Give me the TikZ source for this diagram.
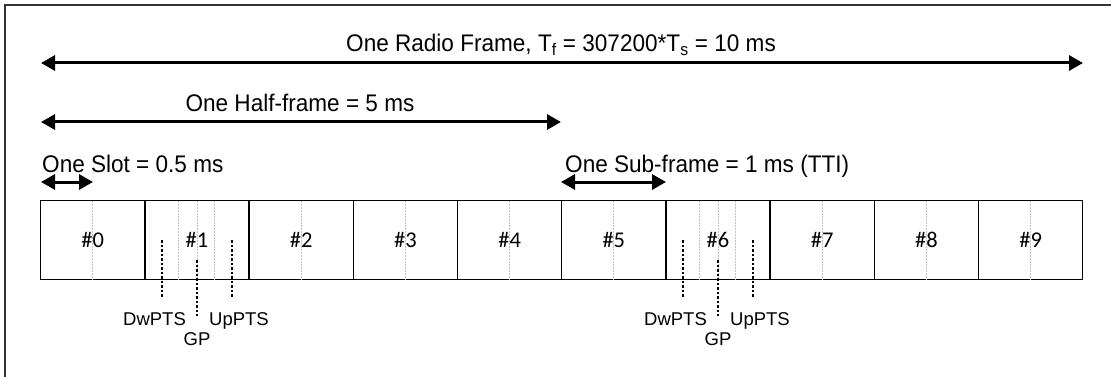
\documentclass[tikz,border=0pt]{standalone}
\usepackage{fontspec}
\setmainfont{Liberation Sans}
\newfontfamily\narrowsans[FakeStretch=0.94]{Liberation Sans}
\newfontfamily\boxfont{Carlito}
\usetikzlibrary{arrows.meta,calc}
\begin{document}
\begin{tikzpicture}[x=1pt,y=-1pt,
  dbl/.style={{Triangle[length=14pt,width=15pt]}-{Triangle[length=14pt,width=15pt]}, line width=3pt},
  sfbox/.style={draw, line width=1.4pt, minimum width=104.2pt, minimum height=79pt, inner sep=0pt, anchor=north west, font=\boxfont\fontsize{22.5}{24}\selectfont},
  bigtxt/.style={inner sep=0pt, font=\narrowsans\fontsize{24}{27}\selectfont},
  smalltxt/.style={inner sep=0pt, anchor=base, font=\fontsize{18.5}{22}\selectfont},
  graydot/.style={draw=black!25, line width=0.8pt, dash pattern=on 1.5pt off 1.5pt},
  blackdot/.style={draw=black, line width=1.5pt, dash pattern=on 2.5pt off 2pt},
  frameline/.style={draw=black!80, line width=2pt}
]
\useasboundingbox (0,0) rectangle (1111,377);
\draw[frameline] (5,377) -- (5,5) -- (1111,5);

% arrows
\coordinate (rf1) at (41,63);  \coordinate (rf2) at (1083,63);
\coordinate (hf1) at (41,122); \coordinate (hf2) at (561,122);
\coordinate (sl1) at (41,182); \coordinate (sl2) at (93,182);
\coordinate (su1) at (561,182); \coordinate (su2) at (666,182);
\draw[dbl] (rf1) -- (rf2);
\draw[dbl] (hf1) -- (hf2);
\draw[dbl] (sl1) -- (sl2);
\draw[dbl] (su1) -- (su2);

\node[bigtxt, anchor=base] (trf) at (561,52) {One Radio Frame, T\textsubscript{f} = 307200*T\textsubscript{s} = 10 ms};
\node[bigtxt, anchor=base] (thf) at (300,112) {One Half-frame = 5 ms};
\node[bigtxt, anchor=base west] (tsl) at (42,172) {One Slot = 0.5 ms};
\node[bigtxt, anchor=base west] (tsu) at (565,172) {One Sub-frame = 1 ms (TTI)};

% subframes
\foreach \i in {0,...,9} {
  \node[sfbox] (b\i) at ({40+104.2*\i},200) {\#\i};
}
\foreach \i in {0,...,9} {
  \draw[graydot] ($(b\i.north)+(0,1)$) -- ($(b\i.south)+(0,-1)$);
}
\foreach \i in {1,6} {
  \draw[graydot] ($(b\i.north west)+(34.5,1)$) -- ($(b\i.south west)+(34.5,-1)$);
  \draw[graydot] ($(b\i.north west)+(70,1)$) -- ($(b\i.south west)+(70,-1)$);
}
\foreach \i/\o in {1/0,6/521} {
  \coordinate (dw\i a) at ({162+\o},240); \coordinate (dw\i b) at ({162+\o},297);
  \coordinate (gp\i a) at ({197+\o},260); \coordinate (gp\i b) at ({197+\o},316);
  \coordinate (up\i a) at ({232+\o},240); \coordinate (up\i b) at ({232+\o},297);
  \draw[blackdot] (dw\i a) -- (dw\i b);
  \draw[blackdot] (gp\i a) -- (gp\i b);
  \draw[blackdot] (up\i a) -- (up\i b);
  \node[smalltxt] (ldw\i) at ({154.5+\o},325) {DwPTS};
  \node[smalltxt] (lup\i) at ({239+\o},325) {UpPTS};
  \node[smalltxt] (lgp\i) at ({197+\o},345) {GP};
}
\end{tikzpicture}
\end{document}
